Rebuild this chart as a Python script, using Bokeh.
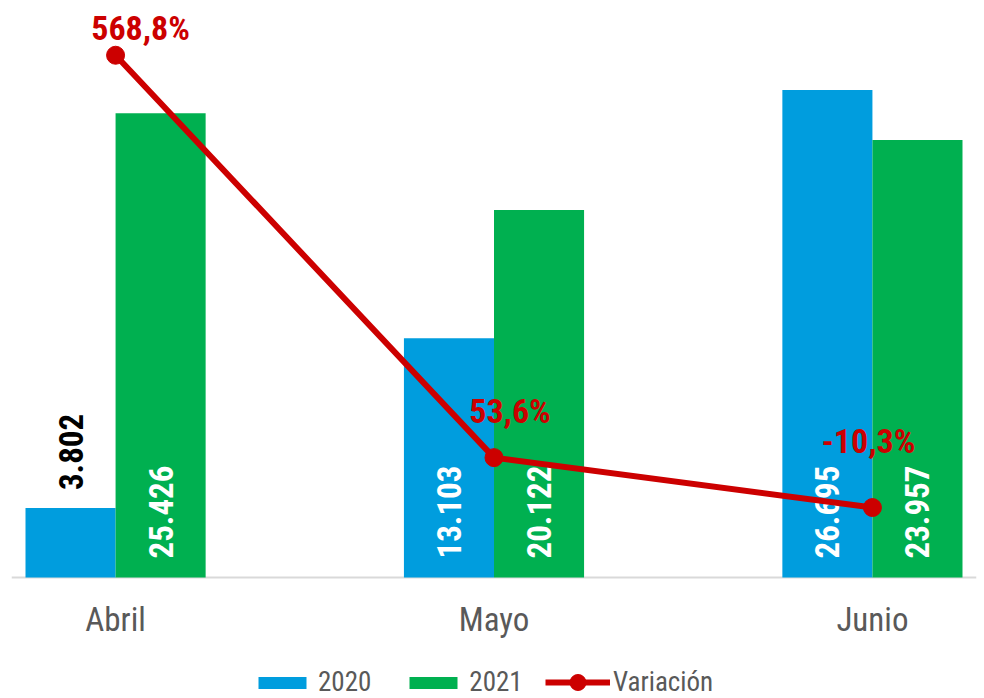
import math
from bokeh.plotting import figure
from bokeh.models import (ColumnDataSource, Range1d, Span, Legend, LegendItem)
from bokeh.transform import dodge
from bokeh.core.properties import value
from bokeh.embed import file_html
from bokeh.resources import INLINE

# ---- data ----
months = ["Abril", "Mayo", "Junio"]
v2020 = [3802, 13103, 26695]
v2021 = [25426, 20122, 23957]
variacion = [568.8, 53.6, -10.3]

# ---- styles ----
C2020 = "#009DDE"
C2021 = "#00B050"
CRED = "#CC0000"
GREY = "#595959"
NARROW = "Roboto Condensed"
pct_dx = [25, 16, -4]
pct_dy = [-27, -47, -67]

idx = list(range(len(months)))

def fmt_int(v):
    return f"{v:,}".replace(",", ".")

def fmt_pct(v):
    return f"{v:.1f}".replace(".", ",") + "%"

src = ColumnDataSource(dict(
    x=idx, m=months, y20=v2020, y21=v2021, pct=variacion,
    lp=[fmt_pct(v) for v in variacion], dx=pct_dx, dy=pct_dy,
    zero=[0] * len(months),
))

p = figure(width=984, height=698, output_backend="svg", toolbar_location=None,
           x_range=Range1d(-0.275, 2.275), y_range=Range1d(-6626, 31599),
           y_axis_location=None, x_axis_location=None,
           min_border_left=11, min_border_right=8, min_border_top=0,
           min_border_bottom=0)
p.extra_y_ranges = {"pct": Range1d(-254.8, 638.9)}
p.outline_line_color = None
p.grid.visible = False
p.background_fill_color = "white"

# category baseline
p.add_layout(Span(location=0, dimension="width", line_color="#D9D9D9",
                  line_width=2, level="underlay"))

# category labels
p.text(x="x", y="zero", text="m", source=src, y_offset=42,
       text_align="center", text_baseline="alphabetic",
       text_font=value(NARROW), text_font_size="33px", text_color=GREY)

BW = 0.238
b20 = p.vbar(x=dodge("x", -0.119), top="y20", width=BW, source=src,
             fill_color=C2020, line_color=None)
b21 = p.vbar(x=dodge("x", 0.119), top="y21", width=BW, source=src,
             fill_color=C2021, line_color=None)

# bar value labels
TH = 5000
for vals, off in ((v2020, -0.119), (v2021, 0.119)):
    ins = [i for i, v in enumerate(vals) if v >= TH]
    outs = [i for i, v in enumerate(vals) if v < TH]
    if ins:
        s = ColumnDataSource(dict(x=[idx[i] + off for i in ins], y=[0] * len(ins),
                                  t=[fmt_int(vals[i]) for i in ins]))
        p.text(x="x", y="y", text="t", source=s, angle=math.pi / 2,
               text_align="left", text_baseline="middle", y_offset=-19,
               text_font=value(NARROW), text_font_style="bold",
               text_font_size="33px", text_color="white")
    if outs:
        s = ColumnDataSource(dict(x=[idx[i] + off for i in outs],
                                  y=[vals[i] for i in outs],
                                  t=[fmt_int(vals[i]) for i in outs]))
        p.text(x="x", y="y", text="t", source=s, angle=math.pi / 2,
               text_align="left", text_baseline="middle", y_offset=-18,
               text_font=value(NARROW), text_font_style="bold",
               text_font_size="33px", text_color="black")

ln = p.line(x="x", y="pct", source=src, y_range_name="pct",
            line_color=CRED, line_width=6)
mk = p.scatter(x="x", y="pct", source=src, y_range_name="pct", size=18,
               fill_color=CRED, line_color=CRED)
p.text(x="x", y="pct", text="lp", source=src, y_range_name="pct",
       x_offset="dx", y_offset="dy", text_align="center", text_baseline="middle",
       text_font=value(NARROW), text_font_style="bold", text_font_size="34px",
       text_color=CRED)

legA = Legend(items=[LegendItem(label="2020", renderers=[b20]),
                     LegendItem(label="2021", renderers=[b21])],
              orientation="horizontal", location=(241, 0),
              glyph_width=60, glyph_height=15, label_standoff=6, spacing=32,
              padding=0, margin=0, border_line_color=None,
              background_fill_alpha=0, label_text_font=NARROW,
              label_text_font_size="27px", label_text_color=GREY)
legB = Legend(items=[LegendItem(label="Variación", renderers=[ln, mk])],
              orientation="horizontal", location=(534, -4),
              glyph_width=65, glyph_height=40, label_standoff=3,
              padding=0, margin=0, border_line_color=None,
              background_fill_alpha=0, label_text_font=NARROW,
              label_text_font_size="27px", label_text_color=GREY)
p.add_layout(legA)
p.add_layout(legB)

open("out.html", "w").write(file_html(p, INLINE))
